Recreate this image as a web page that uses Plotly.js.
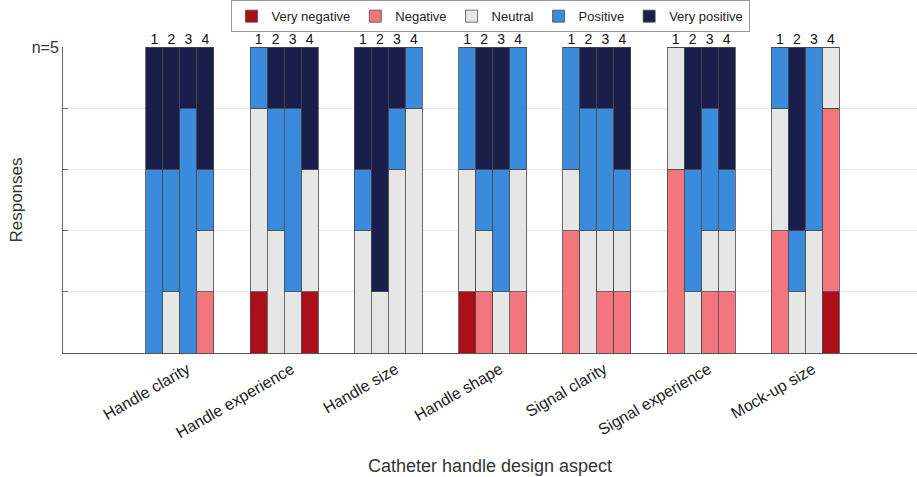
<!DOCTYPE html>
<html>
<head>
<meta charset="utf-8">
<script src="https://cdn.plot.ly/plotly-3.0.1.min.js"></script>
<style>html,body{margin:0;padding:0;background:#fff;}#chart{width:917px;height:477px;}</style>
</head>
<body>
<div id="chart"></div>
<script>
// ---- data ----
const aspects = ['Handle clarity','Handle experience','Handle size','Handle shape','Signal clarity','Signal experience','Mock-up size'];
const barLabels = ['1','2','3','4'];
const levels = ['Very negative','Negative','Neutral','Positive','Very positive'];
const levelColors = ['#AC0F1A','#F3767F','#E6E6E6','#3A8BDC','#1A1E4B'];
// counts per aspect, per bar 1..4, ordered [Very negative, Negative, Neutral, Positive, Very positive]
const handleClarity    = [[0,0,0,3,2],[0,0,1,2,2],[0,0,0,4,1],[0,1,1,1,2]];
const handleExperience = [[1,0,3,1,0],[0,0,2,2,1],[0,0,1,3,1],[1,0,2,0,2]];
const handleSize       = [[0,0,2,1,2],[0,0,1,0,4],[0,0,3,1,1],[0,0,4,1,0]];
const handleShape      = [[1,0,2,2,0],[0,1,1,1,2],[0,0,1,2,2],[0,1,2,2,0]];
const signalClarity    = [[0,2,1,2,0],[0,0,2,2,1],[0,1,1,2,1],[0,1,1,1,2]];
const signalExperience = [[0,3,2,0,0],[0,0,1,2,2],[0,1,1,2,1],[0,1,1,1,2]];
const mockupSize       = [[0,2,2,1,0],[0,0,1,1,3],[0,0,2,3,0],[1,3,1,0,0]];
const nResponses = 5;

// ---- layout helpers ----
const allGroups = [handleClarity,handleExperience,handleSize,handleShape,signalClarity,signalExperience,mockupSize];
const barW = 0.163;
const labelShift = 0.07;
const xs = [], texts = [];
allGroups.forEach((grp, g) => {
  grp.forEach((_, k) => { xs.push(g + 1 + (k - 1.5) * barW); texts.push(barLabels[k]); });
});

const traces = levels.map((name, li) => ({
  type: 'bar',
  name: name,
  x: xs,
  y: allGroups.flatMap(grp => grp.map(b => b[li])),
  width: barW,
  marker: { color: levelColors[li], line: { color: '#4a4a4a', width: 0.8 } },
  hoverinfo: 'name+y'
}));
traces.push({
  type: 'scatter', mode: 'text', x: xs, y: xs.map(() => nResponses),
  text: texts, textposition: 'top center', cliponaxis: false,
  textfont: { family: 'Liberation Sans, Arial, sans-serif', size: 14, color: '#111' },
  showlegend: false, hoverinfo: 'skip'
});

const layout = {
  width: 917, height: 477,
  margin: { l: 63, r: 0, t: 47, b: 124 },
  paper_bgcolor: '#fff', plot_bgcolor: '#fff',
  barmode: 'stack', bargap: 0,
  font: { family: 'Liberation Sans, Arial, sans-serif', color: '#333', size: 14 },
  showlegend: true,
  legend: {
    orientation: 'h', x: 0.5, xanchor: 'center', y: 1.153, yanchor: 'top', yref: 'paper',
    traceorder: 'normal', bordercolor: '#999', borderwidth: 1, bgcolor: '#fff',
    font: { size: 13, color: '#222' }, itemwidth: 30, tracegroupgap: 0
  },
  xaxis: {
    range: [-0.122, 8.07], showgrid: false, zeroline: false,
    showline: true, linecolor: '#555', linewidth: 1, ticks: '',
    tickmode: 'array', tickvals: aspects.map((_, i) => i + 1 + labelShift), ticktext: aspects, tickangle: -30,
    tickfont: { size: 16, color: '#222' },
    title: { text: 'Catheter handle design aspect', font: { size: 18, color: '#333' }, standoff: 18 }
  },
  yaxis: {
    range: [0, nResponses], showgrid: true, gridcolor: '#e6e6e6', zeroline: false,
    showline: true, linecolor: '#666', linewidth: 1,
    ticks: 'inside', ticklen: 5, tickcolor: '#666',
    tickmode: 'array', tickvals: [0,1,2,3,4,5], ticktext: ['','','','','','n=' + nResponses],
    tickfont: { size: 16, color: '#333' },
    title: { text: 'Responses', font: { size: 17, color: '#333' }, standoff: 4 }
  }
};
Plotly.newPlot('chart', traces, layout, { displayModeBar: false, staticPlot: true });
</script>
</body>
</html>
